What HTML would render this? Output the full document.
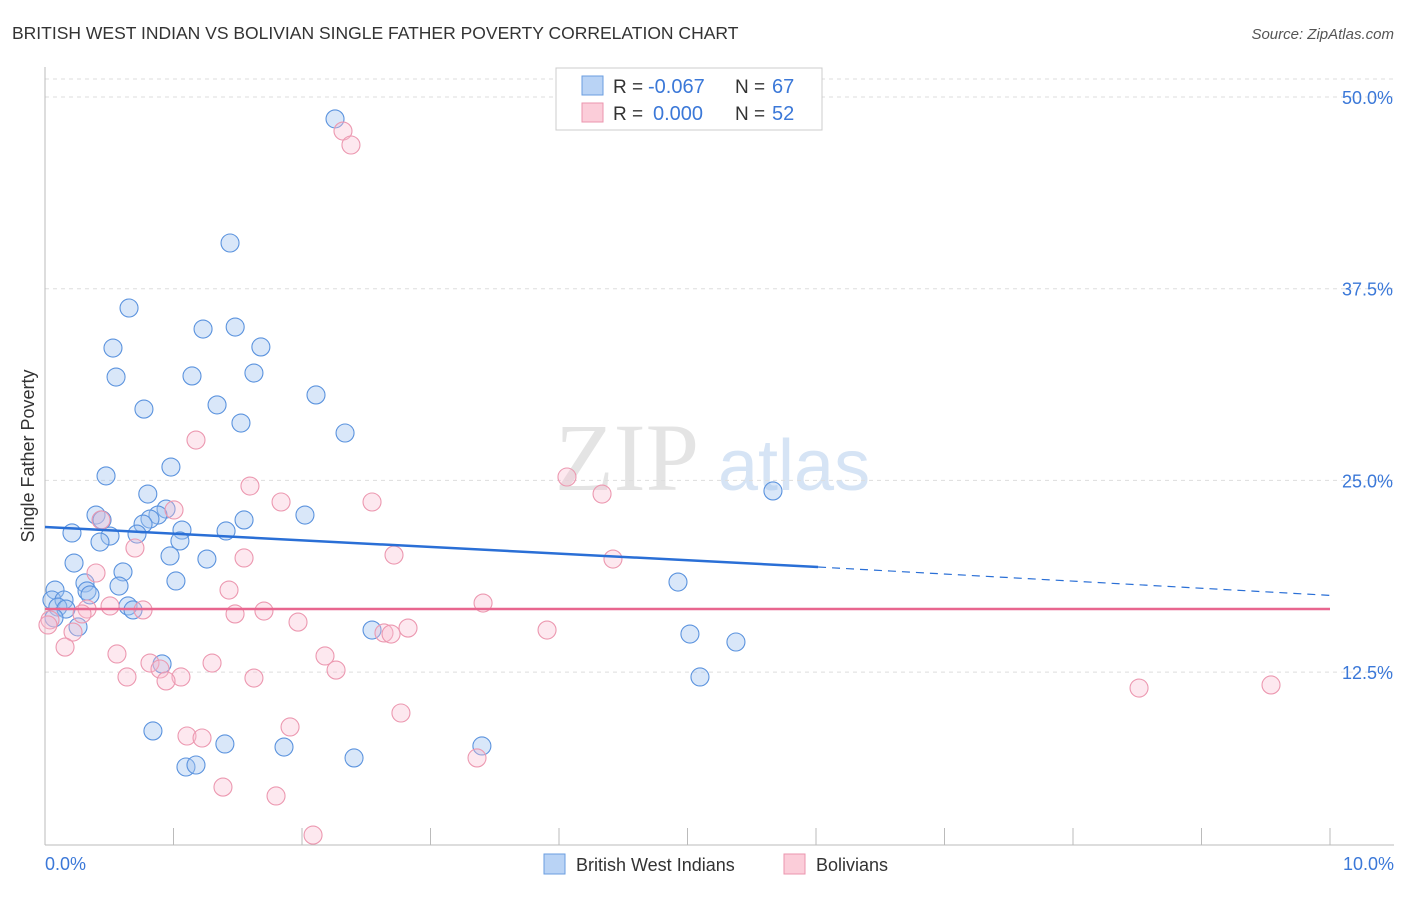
<!DOCTYPE html>
<html><head><meta charset="utf-8"><style>
body{margin:0;background:#fff;font-family:"Liberation Sans",sans-serif}
</style></head><body>
<svg id="c" width="1406" height="892" xmlns="http://www.w3.org/2000/svg">
<text x="12" y="39" font-size="17.5" fill="#333">BRITISH WEST INDIAN VS BOLIVIAN SINGLE FATHER POVERTY CORRELATION CHART</text>
<text x="1394" y="39" font-size="15" fill="#555" font-style="italic" text-anchor="end">Source: ZipAtlas.com</text>
<g><text x="555" y="490" font-size="96" font-family="Liberation Serif,serif" fill="#e4e4e4">ZIP</text><text x="718" y="490" font-size="72" fill="#d6e4f5">atlas</text></g>
<g id="grid"></g><g id="axes"></g><g id="pts"></g><g id="trend"></g>
<text transform="translate(34,456) rotate(-90)" font-size="18" fill="#333" text-anchor="middle">Single Father Poverty</text>
<text x="45" y="870" font-size="18" fill="#3b78d8">0.0%</text>
<text x="1394" y="870" font-size="18" fill="#3b78d8" text-anchor="end">10.0%</text>
<g>
<rect x="556" y="68" width="266" height="62" fill="#fff" stroke="#ccc"/>
<rect x="582" y="76" width="21" height="19" fill="#b9d3f5" stroke="#6a9ee0"/>
<rect x="582" y="103" width="21" height="19" fill="#fbcdd9" stroke="#eb95ae"/>
<text x="613" y="93" font-size="19" fill="#333">R =</text>
<text x="648" y="93" font-size="20" fill="#3b78d8">-0.067</text>
<text x="735" y="93" font-size="19" fill="#333">N =</text>
<text x="772" y="93" font-size="20" fill="#3b78d8">67</text>
<text x="613" y="120" font-size="19" fill="#333">R =</text>
<text x="653" y="120" font-size="20" fill="#3b78d8">0.000</text>
<text x="735" y="120" font-size="19" fill="#333">N =</text>
<text x="772" y="120" font-size="20" fill="#3b78d8">52</text>
</g>
<g>
<rect x="544" y="854" width="21" height="20" fill="#b9d3f5" stroke="#6a9ee0"/>
<text x="576" y="871" font-size="18" fill="#333">British West Indians</text>
<rect x="784" y="854" width="21" height="20" fill="#fbcdd9" stroke="#eb95ae"/>
<text x="816" y="871" font-size="18" fill="#333">Bolivians</text>
</g>
</svg>
<script>
const yTicks=[12.5,25,37.5,50];
const yTickLabels=["12.5%","25.0%","37.5%","50.0%"];
const blueX=[2.257,1.44,0.654,1.23,1.48,0.529,1.68,0.553,1.144,1.626,0.77,2.109,1.339,1.525,2.335,0.98,0.475,5.665,0.80,0.942,0.397,2.023,0.879,0.444,0.817,0.763,1.549,0.21,1.066,1.409,0.716,0.506,0.428,1.05,0.973,1.26,0.226,0.607,1.019,4.926,0.311,0.576,0.078,0.327,0.35,0.054,0.148,0.10,0.646,0.685,0.163,0.07,0.257,2.545,5.019,5.377,0.911,5.097,0.84,1.40,1.86,3.40,2.405,1.097,1.175];
const blueY=[48.57,40.48,36.24,34.87,35.0,33.63,33.7,31.74,31.81,32.0,29.65,30.57,29.92,28.74,28.09,25.87,25.29,24.31,24.11,23.13,22.74,22.74,22.74,22.42,22.48,22.15,22.42,21.57,21.76,21.70,21.50,21.37,20.98,21.05,20.07,19.87,19.61,19.03,18.44,18.37,18.31,18.11,17.85,17.79,17.53,17.2,17.2,16.74,16.81,16.55,16.61,16.03,15.44,15.24,14.98,14.46,13.03,12.18,8.66,7.81,7.61,7.68,6.9,6.31,6.44];
const pinkX=[2.319,2.381,1.175,4.062,1.595,4.335,1.837,2.545,1.004,0.436,0.70,2.716,1.549,4.42,0.397,1.432,3.409,0.506,0.763,0.327,0.288,1.704,1.479,0.039,0.023,1.969,0.218,3.907,2.825,2.638,2.693,0.156,0.56,2.179,0.817,1.30,0.895,2.265,0.638,1.058,0.942,1.626,8.514,9.541,2.77,1.907,1.105,1.222,3.362,1.385,1.798,2.086];
const pinkY=[47.78,46.87,27.63,25.22,24.63,24.11,23.59,23.59,23.07,22.42,20.59,20.13,19.94,19.87,18.96,17.85,17.0,16.81,16.55,16.61,16.29,16.48,16.29,15.9,15.57,15.76,15.11,15.24,15.37,15.05,14.98,14.13,13.68,13.55,13.09,13.09,12.7,12.63,12.18,12.18,11.92,12.11,11.46,11.66,9.83,8.92,8.33,8.2,6.9,5.0,4.42,1.87];
const blueTrend=[[0,21.96],[6.016,19.35],[10,17.5]];
const pinkTrend=[[0,16.61],[10,16.61]];
const NS="http://www.w3.org/2000/svg";
const X=v=>45+v*128.5, Y=v=>97+(50-v)/0.06521;
function mk(p,t,a){const e=document.createElementNS(NS,t);for(const k in a)e.setAttribute(k,a[k]);document.getElementById(p).appendChild(e);return e;}
let g=mk('grid','line',{x1:45,x2:1394,y1:79,y2:79,stroke:'#ddd','stroke-dasharray':'4,4'});


yTicks.forEach((t,i)=>{
 const l=mk('grid','line',{x1:45,x2:1394,y1:Y(t),y2:Y(t),stroke:'#ddd','stroke-dasharray':'4,4'});
 
 
 const tx=mk('grid','text',{x:1393,y:Y(t)+7,'font-size':18,fill:'#3b78d8','text-anchor':'end'});
 tx.textContent=yTickLabels[i];
 
 
});
let a=mk('axes','line',{x1:45,x2:45,y1:67,y2:845,stroke:'#bbb'});


a=mk('axes','line',{x1:45,x2:1394,y1:845,y2:845,stroke:'#bbb'});


for(let i=1;i<=10;i++){const t=mk('axes','line',{x1:X(i),x2:X(i),y1:828,y2:845,stroke:'#bbb'});
 
 }
blueX.forEach((v,i)=>{const c=mk('pts','circle',{cx:X(v),cy:Y(blueY[i]),r:9,fill:'rgba(160,196,240,0.4)',stroke:'#5b93de','stroke-width':1.1});
 
 });
pinkX.forEach((v,i)=>{const c=mk('pts','circle',{cx:X(v),cy:Y(pinkY[i]),r:9,fill:'rgba(248,190,208,0.35)',stroke:'#ec98b0','stroke-width':1.1});
 
 });
let t=mk('trend','line',{x1:X(blueTrend[0][0]),y1:Y(blueTrend[0][1]),x2:X(blueTrend[1][0]),y2:Y(blueTrend[1][1]),stroke:'#2a6fd6','stroke-width':2.5});


t=mk('trend','line',{x1:X(blueTrend[1][0]),y1:Y(blueTrend[1][1]),x2:X(blueTrend[2][0]),y2:Y(blueTrend[2][1]),stroke:'#2a6fd6','stroke-width':1.2,'stroke-dasharray':'8,6'});


t=mk('trend','line',{x1:X(pinkTrend[0][0]),y1:Y(pinkTrend[0][1]),x2:X(pinkTrend[1][0]),y2:Y(pinkTrend[1][1]),stroke:'#e8668f','stroke-width':2.5});


</script>
</body></html>
